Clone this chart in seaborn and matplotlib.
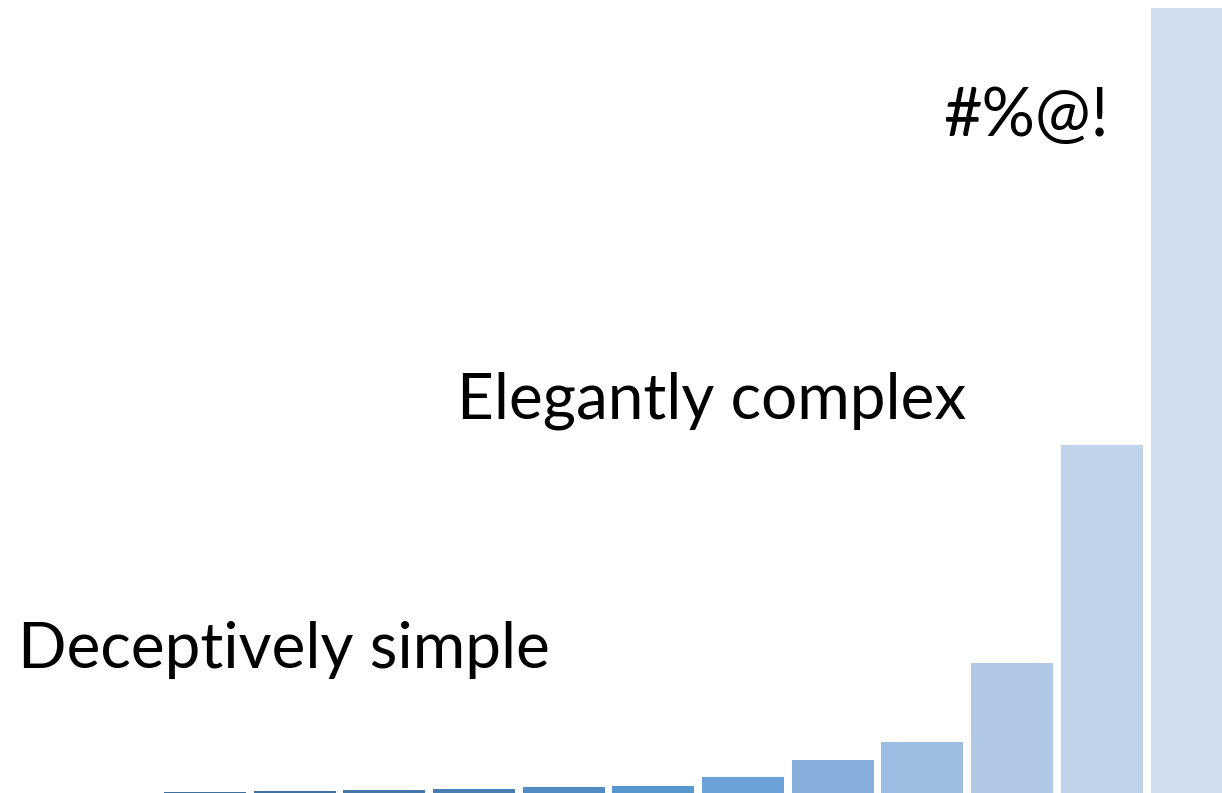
import matplotlib
matplotlib.use("Agg")
import matplotlib.pyplot as plt
import seaborn as sns
import pandas as pd

# Data (bar heights, arbitrary units)
categories = [f"c{i}" for i in range(1, 13)]
values = [1, 2, 3, 4, 6, 7, 16, 33, 51, 130, 348, 785]
bar_colors = ["#3f6f9a", "#4173a1", "#4577a8", "#4a7db2", "#508bc3", "#5896cf",
              "#6ca2d9", "#87afdc", "#9cbce2", "#b1c7e6", "#c1d3eb", "#d0ddef"]
labels = ["Deceptively simple", "Elegantly complex", "#%@!"]

sns.set_theme(style="white")
plt.rcParams['font.family'] = ['Lato', 'DejaVu Sans']

fig = plt.figure(figsize=(12.22, 7.93), dpi=100)
ax = fig.add_axes([0, 0, 1, 1])

df = pd.DataFrame({"cat": categories, "val": values})
sns.barplot(data=df, x="cat", y="val", hue="cat", palette=bar_colors,
            legend=False, width=0.914, saturation=1, ax=ax, linewidth=0)

ax.set_xlim(-2.285, 11.34)
ax.set_ylim(0, 793)
ax.axis("off")

ax.text(18/1222, (793-668)/793, labels[0], transform=ax.transAxes,
        ha="left", va="baseline", fontsize=46, color="black")
ax.text(457/1222, (793-418)/793, labels[1], transform=ax.transAxes,
        ha="left", va="baseline", fontsize=46, color="black")
ax.text(943/1222, (793-136)/793, labels[2], transform=ax.transAxes,
        ha="left", va="baseline", fontsize=48, color="black")

fig.savefig("out.png", dpi=100, facecolor="white")
